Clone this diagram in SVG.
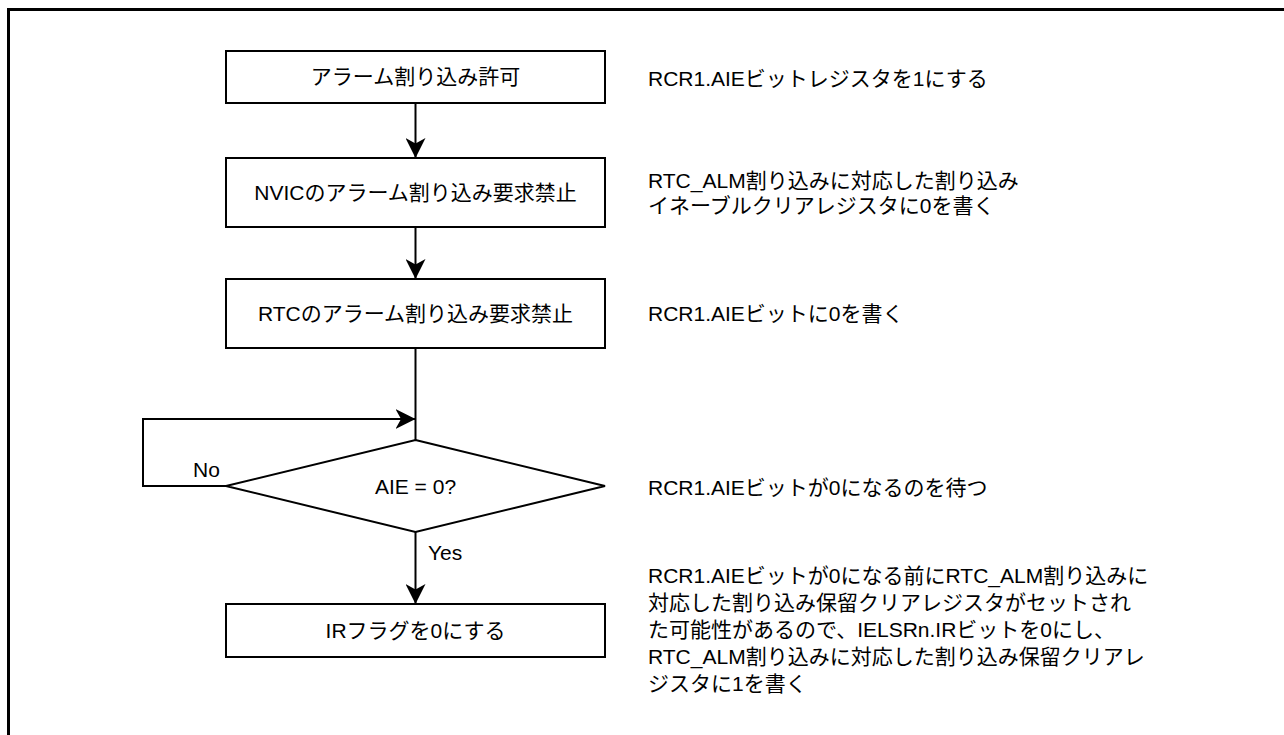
<svg xmlns="http://www.w3.org/2000/svg" width="1284" height="735" viewBox="0 0 1284 735">
<defs>
<marker id="arr" markerUnits="userSpaceOnUse" markerWidth="20" markerHeight="20" viewBox="0 0 18 18" refX="18" refY="9" orient="auto">
<path d="M0,0 L18,9 L0,18 L5,9 Z" fill="#000"/>
</marker>
<style>
.box{fill:#fff;stroke:#000;stroke-width:2}
.ln{fill:none;stroke:#000;stroke-width:2}
.t{font-family:"Liberation Sans","Noto Sans CJK JP",sans-serif;font-size:21px;fill:#000}
.c{text-anchor:middle}
</style>
</defs>
<rect width="1284" height="735" fill="#fff"/>
<rect x="8.5" y="9.5" width="1300" height="800" fill="none" stroke="#000" stroke-width="3"/>
<g id="connectors">
<line class="ln" x1="415.5" y1="103" x2="415.5" y2="158" marker-end="url(#arr)"/>
<line class="ln" x1="415.5" y1="227" x2="415.5" y2="279" marker-end="url(#arr)"/>
<line class="ln" x1="415.5" y1="348" x2="415.5" y2="440"/>
<polyline class="ln" points="226,486 143,486 143,419 415.5,419" marker-end="url(#arr)"/>
<line class="ln" x1="415.5" y1="532" x2="415.5" y2="604" marker-end="url(#arr)"/>
<text class="t" x="193" y="477">No</text>
<text class="t" x="428" y="560">Yes</text>
</g>
<g id="n1">
<rect class="box" x="226" y="51" width="379" height="52"/>
<text class="t c" x="415.5" y="84">アラーム割り込み許可</text>
</g>
<g id="n2">
<rect class="box" x="226" y="158" width="379" height="69"/>
<text class="t c" x="415.5" y="200">NVICのアラーム割り込み要求禁止</text>
</g>
<g id="n3">
<rect class="box" x="226" y="279" width="379" height="69"/>
<text class="t c" x="415.5" y="321">RTCのアラーム割り込み要求禁止</text>
</g>
<g id="n4">
<polygon class="box" points="415.5,440 605,486 415.5,532 226,486"/>
<text class="t c" x="415.5" y="494">AIE = 0?</text>
</g>
<g id="n5">
<rect class="box" x="226" y="604" width="379" height="53"/>
<text class="t c" x="415.5" y="638">IRフラグを0にする</text>
</g>
<g id="notes">
<text class="t" x="648" y="86">RCR1.AIEビットレジスタを1にする</text>
<text class="t" x="648" y="188">RTC_ALM割り込みに対応した割り込み</text>
<text class="t" x="648" y="213">イネーブルクリアレジスタに0を書く</text>
<text class="t" x="648" y="321">RCR1.AIEビットに0を書く</text>
<text class="t" x="648" y="495">RCR1.AIEビットが0になるのを待つ</text>
<text class="t" x="648" y="583">RCR1.AIEビットが0になる前にRTC_ALM割り込みに</text>
<text class="t" x="648" y="610">対応した割り込み保留クリアレジスタがセットされ</text>
<text class="t" x="648" y="637">た可能性があるので、IELSRn.IRビットを0にし、</text>
<text class="t" x="648" y="664">RTC_ALM割り込みに対応した割り込み保留クリアレ</text>
<text class="t" x="648" y="691">ジスタに1を書く</text>
</g>
</svg>
